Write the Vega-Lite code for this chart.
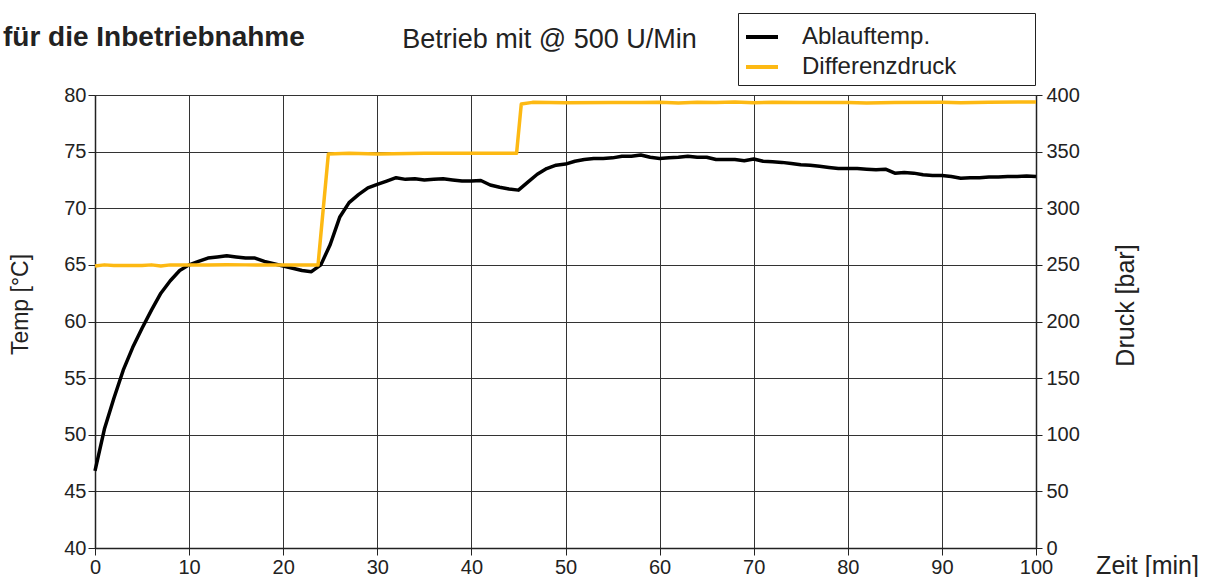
{
  "$schema": "https://vega.github.io/schema/vega-lite/v6.json",
  "width": 941,
  "height": 453,
  "autosize": {"type": "none"},
  "padding": {"left": 95, "top": 95, "right": 173, "bottom": 29},
  "background": "white",
  "config": {
    "font": "Liberation Sans",
    "view": {"stroke": null},
    "axis": {
      "labelFont": "Liberation Sans",
      "labelFontSize": 20,
      "labelColor": "#222",
      "labelFlush": false,
      "tickColor": "#222",
      "tickSize": 7,
      "domainColor": "#222",
      "domainWidth": 1.5,
      "gridColor": "#333",
      "gridWidth": 1,
      "gridOpacity": 1,
      "titleFont": "Liberation Sans",
      "titleFontWeight": "normal",
      "titleFontSize": 24,
      "titleColor": "#222"
    }
  },
  "title": {
    "text": "für die Inbetriebnahme",
    "anchor": "start",
    "frame": "group",
    "dx": -92,
    "offset": -61,
    "baseline": "alphabetic",
    "fontSize": 28,
    "fontWeight": "bold",
    "color": "#222",
    "font": "Liberation Sans"
  },
  "datasets": {
    "temp": [
      {"zeit": 0, "wert": 46.8, "serie": "Ablauftemp."},
      {"zeit": 1, "wert": 50.5, "serie": "Ablauftemp."},
      {"zeit": 2, "wert": 53.2, "serie": "Ablauftemp."},
      {"zeit": 3, "wert": 55.7, "serie": "Ablauftemp."},
      {"zeit": 4, "wert": 57.7, "serie": "Ablauftemp."},
      {"zeit": 5, "wert": 59.4, "serie": "Ablauftemp."},
      {"zeit": 6, "wert": 61.0, "serie": "Ablauftemp."},
      {"zeit": 7, "wert": 62.5, "serie": "Ablauftemp."},
      {"zeit": 8, "wert": 63.6, "serie": "Ablauftemp."},
      {"zeit": 9, "wert": 64.5, "serie": "Ablauftemp."},
      {"zeit": 10, "wert": 65.0, "serie": "Ablauftemp."},
      {"zeit": 11, "wert": 65.3, "serie": "Ablauftemp."},
      {"zeit": 12, "wert": 65.6, "serie": "Ablauftemp."},
      {"zeit": 13, "wert": 65.7, "serie": "Ablauftemp."},
      {"zeit": 14, "wert": 65.8, "serie": "Ablauftemp."},
      {"zeit": 15, "wert": 65.7, "serie": "Ablauftemp."},
      {"zeit": 16, "wert": 65.6, "serie": "Ablauftemp."},
      {"zeit": 17, "wert": 65.6, "serie": "Ablauftemp."},
      {"zeit": 18, "wert": 65.3, "serie": "Ablauftemp."},
      {"zeit": 19, "wert": 65.1, "serie": "Ablauftemp."},
      {"zeit": 20, "wert": 64.9, "serie": "Ablauftemp."},
      {"zeit": 21, "wert": 64.7, "serie": "Ablauftemp."},
      {"zeit": 22, "wert": 64.5, "serie": "Ablauftemp."},
      {"zeit": 23, "wert": 64.4, "serie": "Ablauftemp."},
      {"zeit": 24, "wert": 65.0, "serie": "Ablauftemp."},
      {"zeit": 25, "wert": 66.8, "serie": "Ablauftemp."},
      {"zeit": 26, "wert": 69.2, "serie": "Ablauftemp."},
      {"zeit": 27, "wert": 70.5, "serie": "Ablauftemp."},
      {"zeit": 28, "wert": 71.2, "serie": "Ablauftemp."},
      {"zeit": 29, "wert": 71.8, "serie": "Ablauftemp."},
      {"zeit": 30, "wert": 72.1, "serie": "Ablauftemp."},
      {"zeit": 31, "wert": 72.4, "serie": "Ablauftemp."},
      {"zeit": 32, "wert": 72.7, "serie": "Ablauftemp."},
      {"zeit": 33, "wert": 72.55, "serie": "Ablauftemp."},
      {"zeit": 34, "wert": 72.6, "serie": "Ablauftemp."},
      {"zeit": 35, "wert": 72.5, "serie": "Ablauftemp."},
      {"zeit": 36, "wert": 72.55, "serie": "Ablauftemp."},
      {"zeit": 37, "wert": 72.6, "serie": "Ablauftemp."},
      {"zeit": 38, "wert": 72.5, "serie": "Ablauftemp."},
      {"zeit": 39, "wert": 72.4, "serie": "Ablauftemp."},
      {"zeit": 40, "wert": 72.4, "serie": "Ablauftemp."},
      {"zeit": 41, "wert": 72.45, "serie": "Ablauftemp."},
      {"zeit": 42, "wert": 72.05, "serie": "Ablauftemp."},
      {"zeit": 43, "wert": 71.85, "serie": "Ablauftemp."},
      {"zeit": 44, "wert": 71.7, "serie": "Ablauftemp."},
      {"zeit": 45, "wert": 71.6, "serie": "Ablauftemp."},
      {"zeit": 46, "wert": 72.3, "serie": "Ablauftemp."},
      {"zeit": 47, "wert": 73.0, "serie": "Ablauftemp."},
      {"zeit": 48, "wert": 73.5, "serie": "Ablauftemp."},
      {"zeit": 49, "wert": 73.8, "serie": "Ablauftemp."},
      {"zeit": 50, "wert": 73.9, "serie": "Ablauftemp."},
      {"zeit": 51, "wert": 74.15, "serie": "Ablauftemp."},
      {"zeit": 52, "wert": 74.3, "serie": "Ablauftemp."},
      {"zeit": 53, "wert": 74.4, "serie": "Ablauftemp."},
      {"zeit": 54, "wert": 74.4, "serie": "Ablauftemp."},
      {"zeit": 55, "wert": 74.45, "serie": "Ablauftemp."},
      {"zeit": 56, "wert": 74.6, "serie": "Ablauftemp."},
      {"zeit": 57, "wert": 74.6, "serie": "Ablauftemp."},
      {"zeit": 58, "wert": 74.7, "serie": "Ablauftemp."},
      {"zeit": 59, "wert": 74.5, "serie": "Ablauftemp."},
      {"zeit": 60, "wert": 74.4, "serie": "Ablauftemp."},
      {"zeit": 61, "wert": 74.45, "serie": "Ablauftemp."},
      {"zeit": 62, "wert": 74.5, "serie": "Ablauftemp."},
      {"zeit": 63, "wert": 74.6, "serie": "Ablauftemp."},
      {"zeit": 64, "wert": 74.5, "serie": "Ablauftemp."},
      {"zeit": 65, "wert": 74.5, "serie": "Ablauftemp."},
      {"zeit": 66, "wert": 74.3, "serie": "Ablauftemp."},
      {"zeit": 67, "wert": 74.3, "serie": "Ablauftemp."},
      {"zeit": 68, "wert": 74.3, "serie": "Ablauftemp."},
      {"zeit": 69, "wert": 74.2, "serie": "Ablauftemp."},
      {"zeit": 70, "wert": 74.35, "serie": "Ablauftemp."},
      {"zeit": 71, "wert": 74.15, "serie": "Ablauftemp."},
      {"zeit": 72, "wert": 74.1, "serie": "Ablauftemp."},
      {"zeit": 73, "wert": 74.05, "serie": "Ablauftemp."},
      {"zeit": 74, "wert": 73.95, "serie": "Ablauftemp."},
      {"zeit": 75, "wert": 73.85, "serie": "Ablauftemp."},
      {"zeit": 76, "wert": 73.8, "serie": "Ablauftemp."},
      {"zeit": 77, "wert": 73.7, "serie": "Ablauftemp."},
      {"zeit": 78, "wert": 73.6, "serie": "Ablauftemp."},
      {"zeit": 79, "wert": 73.5, "serie": "Ablauftemp."},
      {"zeit": 80, "wert": 73.5, "serie": "Ablauftemp."},
      {"zeit": 81, "wert": 73.5, "serie": "Ablauftemp."},
      {"zeit": 82, "wert": 73.45, "serie": "Ablauftemp."},
      {"zeit": 83, "wert": 73.4, "serie": "Ablauftemp."},
      {"zeit": 84, "wert": 73.45, "serie": "Ablauftemp."},
      {"zeit": 85, "wert": 73.1, "serie": "Ablauftemp."},
      {"zeit": 86, "wert": 73.15, "serie": "Ablauftemp."},
      {"zeit": 87, "wert": 73.1, "serie": "Ablauftemp."},
      {"zeit": 88, "wert": 72.95, "serie": "Ablauftemp."},
      {"zeit": 89, "wert": 72.9, "serie": "Ablauftemp."},
      {"zeit": 90, "wert": 72.9, "serie": "Ablauftemp."},
      {"zeit": 91, "wert": 72.8, "serie": "Ablauftemp."},
      {"zeit": 92, "wert": 72.65, "serie": "Ablauftemp."},
      {"zeit": 93, "wert": 72.7, "serie": "Ablauftemp."},
      {"zeit": 94, "wert": 72.7, "serie": "Ablauftemp."},
      {"zeit": 95, "wert": 72.75, "serie": "Ablauftemp."},
      {"zeit": 96, "wert": 72.75, "serie": "Ablauftemp."},
      {"zeit": 97, "wert": 72.8, "serie": "Ablauftemp."},
      {"zeit": 98, "wert": 72.8, "serie": "Ablauftemp."},
      {"zeit": 99, "wert": 72.85, "serie": "Ablauftemp."},
      {"zeit": 100, "wert": 72.8, "serie": "Ablauftemp."}
    ],
    "druck": [
      {"zeit": 0, "wert": 249, "serie": "Differenzdruck"},
      {"zeit": 1, "wert": 250, "serie": "Differenzdruck"},
      {"zeit": 2, "wert": 249.5, "serie": "Differenzdruck"},
      {"zeit": 5, "wert": 249.5, "serie": "Differenzdruck"},
      {"zeit": 6, "wert": 250, "serie": "Differenzdruck"},
      {"zeit": 7, "wert": 249, "serie": "Differenzdruck"},
      {"zeit": 8, "wert": 250, "serie": "Differenzdruck"},
      {"zeit": 10, "wert": 250, "serie": "Differenzdruck"},
      {"zeit": 12, "wert": 249.8, "serie": "Differenzdruck"},
      {"zeit": 14, "wert": 250.2, "serie": "Differenzdruck"},
      {"zeit": 16, "wert": 250, "serie": "Differenzdruck"},
      {"zeit": 20, "wert": 249.8, "serie": "Differenzdruck"},
      {"zeit": 23.7, "wert": 249.8, "serie": "Differenzdruck"},
      {"zeit": 24.8, "wert": 348, "serie": "Differenzdruck"},
      {"zeit": 27, "wert": 348.5, "serie": "Differenzdruck"},
      {"zeit": 30, "wert": 348, "serie": "Differenzdruck"},
      {"zeit": 35, "wert": 348.6, "serie": "Differenzdruck"},
      {"zeit": 40, "wert": 348.5, "serie": "Differenzdruck"},
      {"zeit": 44.8, "wert": 348.5, "serie": "Differenzdruck"},
      {"zeit": 45.3, "wert": 392, "serie": "Differenzdruck"},
      {"zeit": 46.5, "wert": 393.5, "serie": "Differenzdruck"},
      {"zeit": 50, "wert": 393.2, "serie": "Differenzdruck"},
      {"zeit": 55, "wert": 393.4, "serie": "Differenzdruck"},
      {"zeit": 58, "wert": 393.3, "serie": "Differenzdruck"},
      {"zeit": 60, "wert": 393.5, "serie": "Differenzdruck"},
      {"zeit": 62, "wert": 393, "serie": "Differenzdruck"},
      {"zeit": 64, "wert": 393.5, "serie": "Differenzdruck"},
      {"zeit": 66, "wert": 393.3, "serie": "Differenzdruck"},
      {"zeit": 68, "wert": 393.8, "serie": "Differenzdruck"},
      {"zeit": 70, "wert": 393.2, "serie": "Differenzdruck"},
      {"zeit": 72, "wert": 393.6, "serie": "Differenzdruck"},
      {"zeit": 75, "wert": 393.4, "serie": "Differenzdruck"},
      {"zeit": 80, "wert": 393.4, "serie": "Differenzdruck"},
      {"zeit": 82, "wert": 393, "serie": "Differenzdruck"},
      {"zeit": 85, "wert": 393.4, "serie": "Differenzdruck"},
      {"zeit": 90, "wert": 393.5, "serie": "Differenzdruck"},
      {"zeit": 92, "wert": 393.2, "serie": "Differenzdruck"},
      {"zeit": 95, "wert": 393.6, "serie": "Differenzdruck"},
      {"zeit": 100, "wert": 393.8, "serie": "Differenzdruck"}
    ]
  },
  "resolve": {"scale": {"y": "independent"}, "axis": {"x": "independent"}},
  "layer": [
    {
      "data": {"name": "temp"},
      "mark": {"type": "line", "strokeWidth": 3.5, "strokeJoin": "round"},
      "encoding": {
        "x": {
          "field": "zeit", "type": "quantitative",
          "scale": {"domain": [0, 100], "nice": false},
          "axis": {
            "orient": "bottom",
            "values": [0, 10, 20, 30, 40, 50, 60, 70, 80, 90, 100],
            "grid": true,
            "labelPadding": 2,
            "title": "Zeit [min]",
            "titleX": 1052,
            "titleY": 25,
            "titleAlign": "center",
            "titleBaseline": "alphabetic",
            "titleFontSize": 25
          }
        },
        "y": {
          "field": "wert", "type": "quantitative",
          "scale": {"domain": [40, 80], "nice": false, "zero": false},
          "axis": {
            "orient": "left",
            "values": [40, 45, 50, 55, 60, 65, 70, 75, 80],
            "grid": true,
            "labelPadding": 2,
            "title": "Temp [°C]",
            "titleFontSize": 23,
            "titleAngle": -90,
            "titleX": -68,
            "titleY": 209,
            "titleAlign": "center",
            "titleBaseline": "alphabetic"
          }
        },
        "color": {
          "field": "serie", "type": "nominal",
          "scale": {"domain": ["Ablauftemp.", "Differenzdruck"], "range": ["#000000", "#FDB913"]},
          "legend": {
            "orient": "none",
            "legendX": 643,
            "legendY": -82,
            "title": null,
            "symbolType": "stroke",
            "symbolSize": 1024,
            "symbolStrokeWidth": 4,
            "labelFontSize": 24,
            "labelColor": "#222",
            "labelFont": "Liberation Sans",
            "labelOffset": 22,
            "labelLimit": 400,
            "strokeColor": "#222",
            "padding": 6,
            "rowPadding": -6,
            "labelExpr": "datum.label + '\u2800\u2800\u2800\u2800'"
          }
        }
      }
    },
    {
      "data": {"name": "druck"},
      "mark": {"type": "line", "strokeWidth": 3.5, "strokeJoin": "round"},
      "encoding": {
        "x": {
          "field": "zeit", "type": "quantitative",
          "scale": {"domain": [0, 100], "nice": false},
          "axis": {
            "orient": "top",
            "labels": false,
            "ticks": false,
            "domain": false,
            "grid": false,
            "title": "Betrieb mit @ 500 U/Min",
            "titleX": 454,
            "titleY": -48,
            "titleAlign": "center",
            "titleBaseline": "alphabetic",
            "titleFontSize": 27
          }
        },
        "y": {
          "field": "wert", "type": "quantitative",
          "scale": {"domain": [0, 400], "nice": false},
          "axis": {
            "orient": "right",
            "values": [0, 50, 100, 150, 200, 250, 300, 350, 400],
            "grid": false,
            "tickSize": 6,
            "labelPadding": 4,
            "title": "Druck [bar]",
            "titleFontSize": 25,
            "titleAngle": -90,
            "titleX": 97,
            "titleY": 210,
            "titleAlign": "center",
            "titleBaseline": "alphabetic"
          }
        },
        "color": {"field": "serie", "type": "nominal"}
      }
    }
  ]
}
